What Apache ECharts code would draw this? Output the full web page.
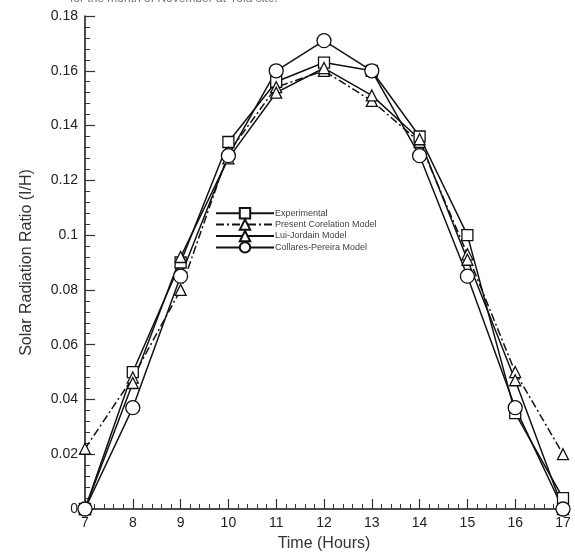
<!DOCTYPE html>
<html><head><meta charset="utf-8">
<script src="https://cdn.jsdelivr.net/npm/echarts@6/dist/echarts.min.js"></script>
<style>html,body{margin:0;padding:0;background:#fff}#c{width:575px;height:557px}</style>
</head><body><div id="c"></div>
<script>
var hours = [7, 8, 9, 10, 11, 12, 13, 14, 15, 16, 17];
var experimental = [0, 0.050, 0.090, 0.134, 0.156, 0.163, 0.160, 0.136, 0.100, 0.035, 0.004];
var presentCorrelation = [0.022, 0.048, 0.080, 0.130, 0.154, 0.160, 0.149, 0.134, 0.093, 0.050, 0.020];
var luiJordan = [0, 0.046, 0.092, 0.128, 0.152, 0.161, 0.151, 0.135, 0.091, 0.047, 0];
var collaresPereira = [0, 0.037, 0.085, 0.129, 0.160, 0.171, 0.160, 0.129, 0.085, 0.037, 0];
var seriesNames = ['Experimental', 'Present Corelation Model', 'Lui-Jordain Model', 'Collares-Pereira Model'];

function pairs(v){ return hours.map(function(h,i){ return [h, v[i]]; }); }
var font = 'Liberation Sans, Arial, sans-serif';
function mk(name, data, symbol, size, dash){
  return {
    name: name, type: 'line', data: pairs(data),
    symbol: symbol, symbolSize: size,
    lineStyle: {color: '#111', width: 1.5, type: dash || 'solid'},
    itemStyle: {color: '#fff', borderColor: '#111', borderWidth: 1.3},
    emphasis: {disabled: true}, z: 3
  };
}
var chart = echarts.init(document.getElementById('c'), null, {renderer: 'canvas'});
chart.setOption({
  animation: false,
  backgroundColor: '#fff',
  graphic: [{type: 'text', left: 70, top: -7, style: {text: 'for the month of November at Yola site.', font: '12px ' + font, fill: '#777'}}],
  grid: {left: 85, right: 12, top: 16, bottom: 47},
  legend: {
    data: seriesNames, orient: 'vertical', left: 210, top: 202,
    itemWidth: 58, itemHeight: 13, itemGap: -1,
    textStyle: {fontFamily: font, fontSize: 9, color: '#444', padding: [0,0,0,-4]},
    inactiveColor: '#111'
  },
  xAxis: {
    type: 'value', min: 7, max: 17, interval: 1,
    name: 'Time (Hours)', nameLocation: 'middle', nameGap: 27,
    nameTextStyle: {fontFamily: font, fontSize: 16, color: '#333'},
    axisLine: {show: true, onZero: false, lineStyle: {color: '#111', width: 1.5}},
    axisTick: {show: true, inside: true, length: 10, lineStyle: {color: '#333', width: 1.2}},
    minorTick: {show: true, splitNumber: 5, length: 5, lineStyle: {color: '#333', width: 1}},
    axisLabel: {fontFamily: font, fontSize: 14, color: '#222', margin: 7},
    splitLine: {show: false}
  },
  yAxis: {
    type: 'value', min: 0, max: 0.18, interval: 0.02,
    name: 'Solar Radiation Ratio (I/H)', nameLocation: 'middle', nameGap: 50, nameRotate: 90,
    nameTextStyle: {fontFamily: font, fontSize: 16, color: '#333'},
    axisLine: {show: true, lineStyle: {color: '#111', width: 1.5}},
    axisTick: {show: true, inside: true, length: 10, lineStyle: {color: '#333', width: 1.2}},
    minorTick: {show: true, splitNumber: 5, length: 5, lineStyle: {color: '#333', width: 1}},
    axisLabel: {fontFamily: font, fontSize: 14, color: '#222', margin: 7},
    splitLine: {show: false}
  },
  series: [
    mk(seriesNames[0], experimental, 'rect', 11),
    mk(seriesNames[1], presentCorrelation, 'triangle', 11, [8, 3, 2, 3]),
    mk(seriesNames[2], luiJordan, 'triangle', 11),
    mk(seriesNames[3], collaresPereira, 'circle', 14)
  ]
});
</script></body></html>
